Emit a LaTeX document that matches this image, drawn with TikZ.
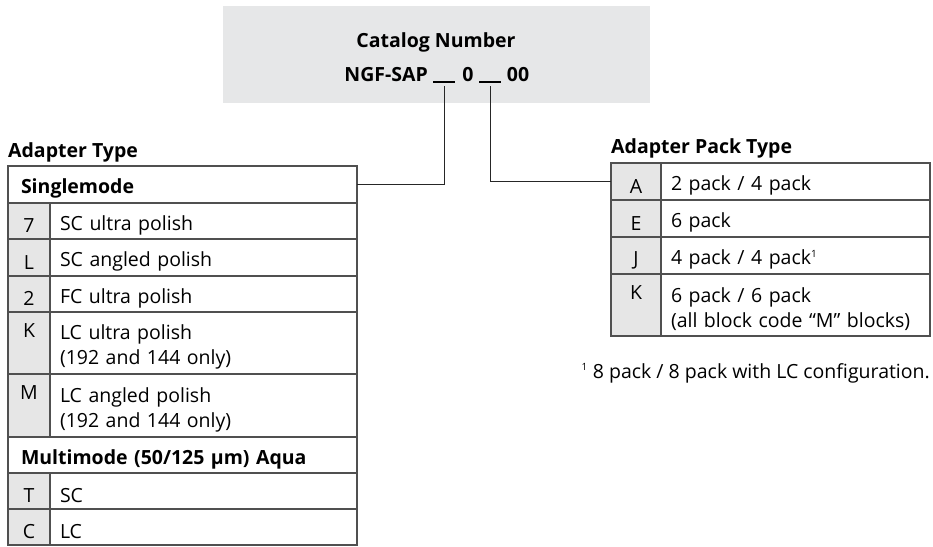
\documentclass[tikz,border=0pt]{standalone}
\usepackage{fontspec}
\setmainfont{Open Sans}
\usetikzlibrary{positioning}
\definecolor{boxgray}{HTML}{E6E7E8}
\definecolor{cellgray}{HTML}{E6E6E6}
\definecolor{rulegray}{HTML}{505050}
\newcommand\bodysize{\fontsize{19.5}{25}\selectfont}
\newcommand\cellstrut{\rule{0pt}{23pt}}
\newcommand\fnmark{\textsuperscript{\fontsize{10}{10}\selectfont 1}}

\tikzset{
  codecell/.style={draw=rulegray, line width=1.2pt, fill=cellgray, anchor=north west,
    inner sep=0pt, outer sep=0pt, align=center, execute at begin node=\cellstrut},
  desccell/.style={draw=rulegray, line width=1.2pt, fill=white, anchor=north west,
    inner xsep=10pt, inner ysep=0pt, outer sep=0pt, align=left, execute at begin node=\cellstrut},
  headcell/.style={desccell, inner xsep=13pt, font=\bodysize\bfseries},
  title/.style={font=\bodysize\bfseries, inner sep=0pt},
  link/.style={draw=black!85, line width=1.2pt},
}

\begin{document}
\begin{tikzpicture}[x=1pt, y=-1pt, font=\bodysize]
\useasboundingbox (0,0) rectangle (933,546);

% catalog number
\node[fill=boxgray, minimum width=427pt, minimum height=97pt, anchor=north west, inner sep=0pt] (box) at (223,6) {};
\node[title, anchor=base] (cat) at (436,47) {Catalog Number};
\node[title, anchor=base east] (ngf) at (428,81) {NGF-SAP};
\node[inner sep=0pt, minimum width=22pt, anchor=south west] (blank1) at (433,82) {};
\node[title, anchor=base] (zero) at (468,81) {0};
\node[inner sep=0pt, minimum width=22pt, anchor=south west] (blank2) at (479,82) {};
\node[title, anchor=base] (zz) at (518,81) {00};
\draw[line width=1.2pt] (blank1.south west) -- (blank1.south east);
\draw[line width=1.2pt] (blank2.south west) -- (blank2.south east);

% adapter type
\node[title, anchor=base west] (ttype) at (8,157) {Adapter Type};
\node[headcell, text width=323pt, minimum height=37pt] (single) at (8,166) {Singlemode};
\node[codecell, minimum width=42pt, minimum height=36pt] (c7) at (8,203) {7};
\node[desccell, text width=287pt, minimum height=36pt] (d7) at (50,203) {SC ultra polish};
\node[codecell, minimum width=42pt, minimum height=37pt] (cL) at (8,239) {L};
\node[desccell, text width=287pt, minimum height=37pt] (dL) at (50,239) {SC angled polish};
\node[codecell, minimum width=42pt, minimum height=36pt] (c2) at (8,276) {2};
\node[desccell, text width=287pt, minimum height=36pt] (d2) at (50,276) {FC ultra polish};
\node[codecell, minimum width=42pt, minimum height=62pt] (cK) at (8,312) {K\\\mbox{}};
\node[desccell, text width=287pt, minimum height=62pt] (dK) at (50,312) {LC ultra polish\\(192 and 144 only)};
\node[codecell, minimum width=42pt, minimum height=63pt] (cM) at (8,374) {M\\\mbox{}};
\node[desccell, text width=287pt, minimum height=63pt] (dM) at (50,374) {LC angled polish\\(192 and 144 only)};
\node[headcell, text width=323pt, minimum height=36pt] (multi) at (8,437) {Multimode (50/125 µm) Aqua};
\node[codecell, minimum width=42pt, minimum height=36pt] (cT) at (8,473) {T};
\node[desccell, text width=287pt, minimum height=36pt] (dT) at (50,473) {SC};
\node[codecell, minimum width=42pt, minimum height=36pt] (cC) at (8,509) {C};
\node[desccell, text width=287pt, minimum height=36pt] (dC) at (50,509) {LC};

% adapter pack type
\node[title, anchor=base west] (tpack) at (611,153) {Adapter Pack Type};
\node[codecell, minimum width=50pt, minimum height=37pt] (pA) at (611,163) {A};
\node[desccell, text width=249pt, minimum height=37pt] (qA) at (661,163) {2 pack / 4 pack};
\node[codecell, minimum width=50pt, minimum height=37pt] (pE) at (611,200) {E};
\node[desccell, text width=249pt, minimum height=37pt] (qE) at (661,200) {6 pack};
\node[codecell, minimum width=50pt, minimum height=37pt] (pJ) at (611,237) {J};
\node[desccell, text width=249pt, minimum height=37pt] (qJ) at (661,237) {4 pack / 4 pack\fnmark};
\node[codecell, minimum width=50pt, minimum height=62pt] (pK) at (611,274) {K\\\mbox{}};
\node[desccell, text width=249pt, minimum height=62pt] (qK) at (661,274) {6 pack / 6 pack\\(all block code “M” blocks)};
\node[anchor=base east, inner sep=0pt] (note) at (930,378) {\fnmark\ 8 pack / 8 pack with LC configuration.};

\draw[link, shorten <=4pt] (blank1.south) |- (single.east);
\draw[link, shorten <=4pt] (blank2.south) |- (pA.west);
\end{tikzpicture}
\end{document}
